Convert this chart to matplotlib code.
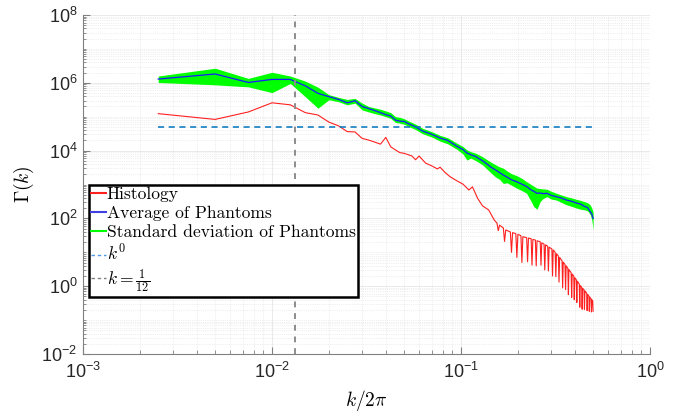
import numpy as np
import matplotlib
matplotlib.use("Agg")
from matplotlib import pyplot as plt
from matplotlib.lines import Line2D
from matplotlib.ticker import LogLocator, NullFormatter

plt.rcParams['font.family'] = ['Liberation Sans', 'DejaVu Sans']
plt.rcParams['mathtext.fontset'] = 'cm'

N = 400  # x = n / N  (k / 2pi)

# histology spectrum, log10 values
hist_n = [1, 2, 3, 4, 5, 6, 7, 8, 9, 10, 11, 12, 13, 14, 15, 16, 17, 18, 19, 20,
          21, 22, 23, 24, 26, 28, 30, 31, 33, 35, 38, 41, 44, 46, 49, 52, 56, 58, 60,
          62, 63, 64, 67, 68, 69, 73, 74, 75, 78, 79, 80, 83, 84, 85, 89, 90, 91,
          94, 95, 96, 99, 100, 101, 105, 106, 107, 110, 111, 112, 115, 116, 117,
          121, 122, 123, 126, 127, 128, 131, 132, 133, 137, 138, 139, 142, 143, 144,
          147, 148, 149, 153, 154, 155, 158, 159, 160, 163, 164, 165, 169, 170, 171,
          174, 175, 176, 179, 180, 181, 185, 186, 187, 190, 191, 192, 195, 196, 197,
          199, 200]
hist_log = [5.09, 4.92, 5.14, 5.41, 5.35, 5.12, 5.05, 4.84, 4.73, 4.56, 4.55, 4.36, 4.31, 4.25, 4.19, 4.39, 4.11, 4.02, 3.94, 3.92,
            3.88, 3.84, 3.73, 3.84, 3.63, 3.55, 3.46, 3.51, 3.35, 3.23, 3.11, 3.01, 2.84, 2.93, 2.59, 2.37, 2.25, 2.10, 1.95,
            1.86, 1.64, 1.80, 1.72, 1.32, 1.66, 1.60, 1.00, 1.58, 1.55, 0.85, 1.53, 1.49, 0.70, 1.46, 1.43, 0.72, 1.42,
            1.40, 0.62, 1.38, 1.36, 0.60, 1.34, 1.31, 0.62, 1.28, 1.24, 0.48, 1.22, 1.18, 0.45, 1.15,
            1.10, 0.30, 1.07, 1.00, 0.28, 0.96, 0.89, 0.12, 0.85, 0.75, -0.05, 0.71, 0.64, -0.10, 0.60,
            0.53, -0.25, 0.49, 0.40, -0.33, 0.36, 0.30, -0.40, 0.25, 0.19, -0.48, 0.15, 0.06, -0.62, 0.02,
            -0.03, -0.68, -0.06, -0.11, -0.68, -0.14, -0.21, -0.72, -0.24, -0.29, -0.74, -0.32, -0.37, -0.76, -0.40,
            -0.44, -0.74]

# phantoms: average and std band (log10)
ph_n = [1, 2, 3, 4, 5, 6, 7, 8, 9, 10, 11, 12, 13, 14, 15, 16, 17, 18, 19, 20,
        21, 23, 25, 28, 31, 34, 38, 41, 43, 45, 48, 52, 55, 58, 61, 64, 67, 70, 74,
        79, 84, 89, 94, 97, 101, 105, 109, 114, 120, 128, 136, 145, 155, 164, 172,
        181, 187, 193, 197, 200]
ph_avg = [6.11, 6.26, 6.01, 6.10, 6.10, 5.91, 5.69, 5.59, 5.51, 5.41, 5.47, 5.30, 5.24, 5.18, 5.12, 5.06, 5.02, 4.90, 4.87, 4.86,
          4.80, 4.70, 4.58, 4.48, 4.37, 4.30, 4.13, 4.03, 3.93, 3.88, 3.82, 3.70, 3.60, 3.50, 3.43, 3.35, 3.28, 3.22, 3.14,
          3.08, 3.01, 2.94, 2.84, 2.80, 2.74, 2.75, 2.73, 2.74, 2.68, 2.64, 2.60, 2.54, 2.50, 2.45, 2.42,
          2.35, 2.32, 2.20, 2.12, 2.00]
ph_hi = [6.20, 6.43, 6.13, 6.31, 6.20, 6.05, 5.87, 5.65, 5.57, 5.51, 5.54, 5.40, 5.30, 5.26, 5.22, 5.17, 5.12, 5.00, 4.98, 4.94,
         4.88, 4.78, 4.66, 4.56, 4.45, 4.38, 4.22, 4.12, 4.02, 3.97, 3.92, 3.82, 3.73, 3.65, 3.58, 3.52, 3.48, 3.40, 3.32,
         3.26, 3.18, 3.08, 3.00, 2.95, 2.89, 2.88, 2.87, 2.86, 2.80, 2.74, 2.69, 2.64, 2.60, 2.56, 2.53,
         2.49, 2.46, 2.40, 2.30, 2.19]
ph_lo = [6.01, 5.94, 5.88, 5.71, 5.98, 5.59, 5.25, 5.50, 5.44, 5.35, 5.40, 5.20, 5.14, 5.09, 5.05, 5.00, 4.95, 4.83, 4.81, 4.78,
         4.72, 4.62, 4.50, 4.40, 4.28, 4.20, 4.04, 3.90, 3.72, 3.78, 3.70, 3.58, 3.45, 3.33, 3.22, 3.15, 3.03, 3.05, 2.98,
         2.89, 2.82, 2.74, 2.50, 2.35, 2.27, 2.50, 2.59, 2.64, 2.57, 2.54, 2.47, 2.40, 2.35, 2.30, 2.27,
         2.25, 2.22, 2.12, 1.95, 1.66]

k0_level = 5.0e4
k_cut = 1.0 / 12

hx = np.array(hist_n) / N
px = np.array(ph_n) / N

fig = plt.figure(figsize=(6.95, 4.17), dpi=100)
ax = fig.add_axes([83/695, 63/417, 567/695, 339/417])

ax.fill_between(px, 10**np.array(ph_lo), 10**np.array(ph_hi), color='#00ff00', lw=0, zorder=2)
ax.plot(px, 10**np.array(ph_avg), color='#1a1aff', lw=0.9, zorder=3)
ax.plot(hx, 10**np.array(hist_log), color='#ff2020', lw=0.8, zorder=3)
ax.plot([px[0], px[-1]], [k0_level, k0_level], color='#0072bd', ls=(0, (4, 3)), lw=1.1, zorder=3)
ax.axvline(k_cut / (2*np.pi), color='0.55', ls=(0, (3, 3)), lw=1.4, zorder=3)

ax.set_xscale('log')
ax.set_yscale('log')
ax.set_xlim(1e-3, 1)
ax.set_ylim(1e-2, 1e8)
ax.set_yticks([1e-2, 1e0, 1e2, 1e4, 1e6, 1e8])
ax.set_xticks([1e-3, 1e-2, 1e-1, 1e0])
ax.yaxis.set_minor_locator(LogLocator(base=10, subs=np.arange(1, 10), numticks=50))
ax.xaxis.set_minor_locator(LogLocator(base=10, subs=np.arange(2, 10), numticks=50))
ax.yaxis.set_minor_formatter(NullFormatter())
ax.xaxis.set_minor_formatter(NullFormatter())

ax.grid(which='major', color='0.9', lw=0.6, ls='-')
ax.grid(which='minor', color='0.88', lw=0.5, ls=':')
ax.set_axisbelow(True)
for s in ['top', 'right']:
    ax.spines[s].set_visible(False)
for s in ['left', 'bottom']:
    ax.spines[s].set_color('0.5')
    ax.spines[s].set_linewidth(0.8)
ax.tick_params(which='both', direction='in', colors='0.5', labelcolor='#262626', labelsize=13)
ax.tick_params(which='major', length=5)
ax.tick_params(which='minor', length=3)
ax.tick_params(axis='y', which='minor', length=2)
ax.tick_params(axis='x', which='major', pad=6)
ax.tick_params(axis='y', which='major', pad=4)

ax.set_xlabel(r'$k/2\pi$', fontsize=14, labelpad=4)
ax.set_ylabel(r'$\Gamma(k)$', fontsize=14, labelpad=4)

handles = [Line2D([], [], color='#ff2020', lw=1.5),
           Line2D([], [], color='#4040e0', lw=1.5),
           Line2D([], [], color='#00ff00', lw=1.5),
           Line2D([], [], color='#4d9be6', ls=(0, (2.5, 2)), lw=1),
           Line2D([], [], color='0.5', ls=(0, (2.5, 2)), lw=1)]
labels = ['Histology', 'Average of Phantoms', 'Standard deviation of Phantoms',
          r'$k^0$', r'$k=\frac{1}{12}$']
leg = ax.legend(handles, labels, loc='lower left', bbox_to_anchor=(0.0106, 0.169),
                borderaxespad=0, prop={'family': 'cmr10', 'size': 12.6},
                handlelength=0.85, handletextpad=0.05, borderpad=0.12,
                labelspacing=0.2, fancybox=False, framealpha=1)
leg.get_frame().set_edgecolor('black')
leg.get_frame().set_linewidth(1.8)
leg.set_zorder(5)

fig.savefig('out.png', dpi=100)
